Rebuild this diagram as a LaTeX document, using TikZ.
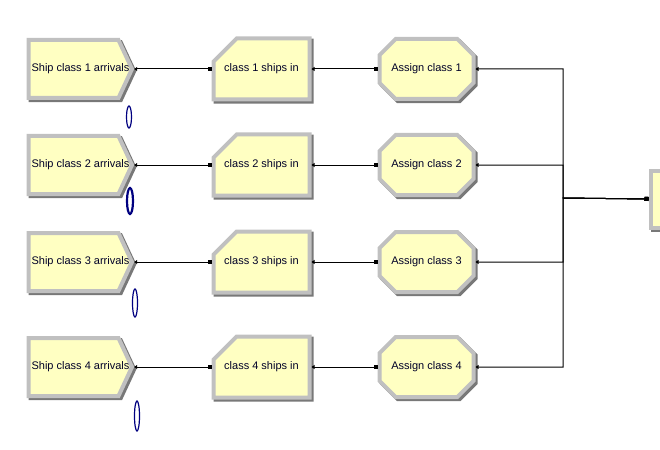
\documentclass[tikz,border=0pt]{standalone}
\usepackage{fontspec}
\setmainfont{Liberation Sans}
\usepackage{tikz}
\usetikzlibrary{shapes.symbols,shapes.misc,shapes.geometric,arrows.meta,shadows}

\definecolor{modfill}{RGB}{255,255,194}
\definecolor{bevlight}{RGB}{192,192,192}
\definecolor{bevdark}{RGB}{120,120,120}
\definecolor{cntblue}{RGB}{0,0,128}
\definecolor{txtcol}{RGB}{0,0,40}

\begin{document}
\begin{tikzpicture}[x=1pt,y=-1pt,
  every node/.style={font=\fontsize{11}{13}\selectfont, text=txtcol, inner sep=0pt},
  module/.style={fill=modfill, draw=bevlight, line width=4pt, outer sep=2pt,
    general shadow={draw=bevdark, fill=bevdark, line width=4pt, shadow xshift=2.2pt, shadow yshift=-2.2pt}},
  create node/.style={module, signal, signal to=east, signal pointer angle=130,
    minimum width=103.5pt, minimum height=58pt},
  create text/.style={xshift=7pt},
  process node/.style={module, chamfered rectangle, chamfered rectangle corners=north west,
    chamfered rectangle xsep=18pt, chamfered rectangle ysep=18pt, minimum width=96pt, minimum height=61pt},
  assign node/.style={module, chamfered rectangle, chamfered rectangle xsep=11pt,
    chamfered rectangle ysep=11pt, minimum width=94pt, minimum height=60pt},
  link/.style={draw=black, line width=1pt, {Triangle[length=3pt,width=4pt]}-{Square[length=4pt,width=4pt]}},
  counter/.style={ellipse, draw=cntblue, fill=white, line width=1.2pt, minimum width=5pt}]

  \useasboundingbox (0,0) rectangle (660,449);

  % arrivals
  \node[create node, label={[create text]center:Ship class 1 arrivals}] (arr1) at (73.5,69) {};
  \node[create node, label={[create text]center:Ship class 2 arrivals}] (arr2) at (73.5,165) {};
  \node[create node, label={[create text]center:Ship class 3 arrivals}] (arr3) at (73.5,262) {};
  \node[create node, label={[create text]center:Ship class 4 arrivals}] (arr4) at (73.5,367) {};

  % ships in
  \node[process node] (in1) at (261.5,69) {class 1 ships in};
  \node[process node] (in2) at (261.5,165) {class 2 ships in};
  \node[process node] (in3) at (261.5,262) {class 3 ships in};
  \node[process node] (in4) at (261.5,367) {class 4 ships in};

  % assign
  \node[assign node] (asg1) at (426.5,69) {Assign class 1};
  \node[assign node] (asg2) at (426.5,165) {Assign class 2};
  \node[assign node] (asg3) at (426.5,262) {Assign class 3};
  \node[assign node] (asg4) at (426.5,367) {Assign class 4};

  \node[module, rectangle, minimum width=100pt, minimum height=57pt] (next) at (700.5,199) {};
  \coordinate (join) at (563,198);

  % counters
  \node[counter, minimum height=22pt] (cnt1) at (129,117) {};
  \node[counter, minimum height=26pt, minimum width=6pt, line width=2.2pt] (cnt2) at (130,201) {};
  \node[counter, minimum height=28pt] (cnt3) at (135,303) {};
  \node[counter, minimum height=30pt] (cnt4) at (137,416) {};

  \draw[link] (arr1.east) -- (in1.west);
  \draw[link] (arr2.east) -- (in2.west);
  \draw[link] (arr3.east) -- (in3.west);
  \draw[link] (arr4.east) -- (in4.west);
  \draw[link] (in1.east) -- (asg1.west);
  \draw[link] (in2.east) -- (asg2.west);
  \draw[link] (in3.east) -- (asg3.west);
  \draw[link] (in4.east) -- (asg4.west);
  \draw[link] (asg1.east) -| (join) -- (next.west);
  \draw[link] (asg2.east) -| (join) -- (next.west);
  \draw[link] (asg3.east) -| (join) -- (next.west);
  \draw[link] (asg4.east) -| (join) -- (next.west);
\end{tikzpicture}
\end{document}
